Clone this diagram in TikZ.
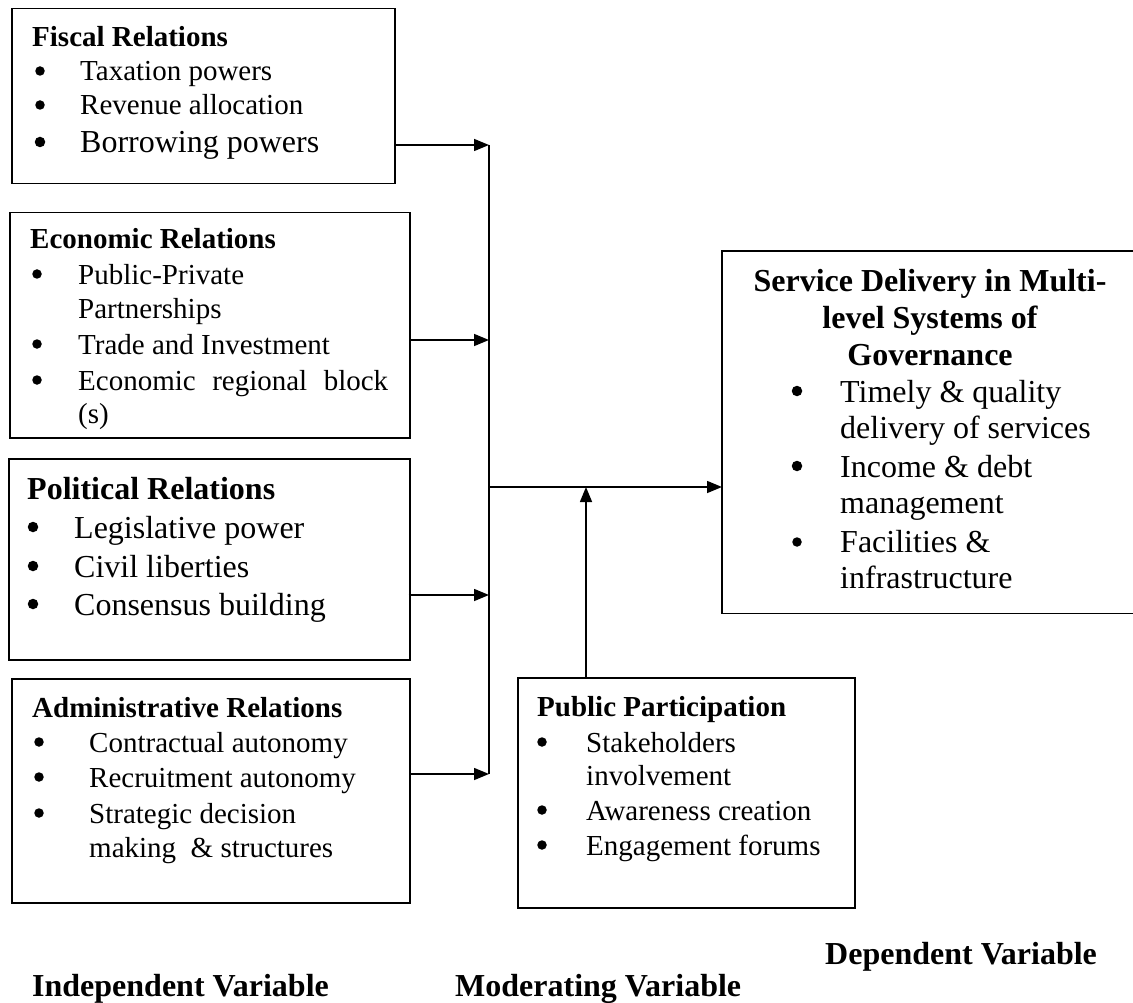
\documentclass[tikz,border=0pt]{standalone}
\usepackage{fontspec}
\setmainfont{Liberation Serif}
\usetikzlibrary{arrows.meta}
\tikzset{
  box/.style={draw, line width=1.5pt, inner sep=0pt, anchor=north west},
  openbox/.style={inner sep=0pt, anchor=north west},
  conn/.style={line width=1.5pt, -{Triangle[length=15pt,width=12pt]}},
  plainline/.style={line width=1.5pt},
  tx/.style={anchor=base west, inner sep=0pt, font=\fontsize{29}{35}\selectfont},
  txl/.style={anchor=base west, inner sep=0pt, font=\fontsize{32}{38}\selectfont},
  hd/.style={anchor=base west, inner sep=0pt, font=\fontsize{29}{35}\selectfont\bfseries},
  hdl/.style={anchor=base west, inner sep=0pt, font=\fontsize{32}{38}\selectfont\bfseries},
  hdc/.style={anchor=base, inner sep=0pt, font=\fontsize{32}{38}\selectfont\bfseries},
  bul/.style={circle, fill, inner sep=0pt, minimum size=9.5pt, yshift=10pt},
  bull/.style={circle, fill, inner sep=0pt, minimum size=10.5pt, yshift=11pt},
}
\begin{document}
\begin{tikzpicture}[x=1pt, y=-1pt]
\useasboundingbox (0,0) rectangle (1133,1003);

% Boxes
\node[box, minimum width=383pt, minimum height=175pt] (fiscal) at (11,8) {};
\node[box, minimum width=400pt, minimum height=225pt] (econ) at (9,212) {};
\node[box, minimum width=401pt, minimum height=201pt] (polit) at (8,458) {};
\node[box, minimum width=398pt, minimum height=224pt] (admin) at (11,678) {};
\node[box, minimum width=337pt, minimum height=230pt] (public) at (517,677) {};
\node[openbox, minimum width=422pt, minimum height=362pt] (service) at (722,251) {};
\draw[plainline] (service.north east) -- (service.north west) -- (service.south west) -- (service.south east);

% Fiscal
\node[hd] (f0) at (32,47) {Fiscal Relations};
\node[bul] (fb1) at (40,81) {};
\node[tx] (f1) at (80,81) {Taxation powers};
\node[bul] (fb2) at (40,115) {};
\node[tx] (f2) at (80,115) {Revenue allocation};
\node[bull] (fb3) at (40,153) {};
\node[txl] (f3) at (80,153) {Borrowing powers};

% Economic
\node[hd] (e0) at (30,249) {Economic Relations};
\node[bul] (eb1) at (37,284) {};
\node[tx] (e1) at (78,284) {Public-Private};
\node[tx] (e2) at (78,318) {Partnerships};
\node[bul] (eb3) at (37,354) {};
\node[tx] (e3) at (78,354) {Trade and Investment};
\node[bul] (eb4) at (37,390) {};
\node[tx] (e4) at (78,390) {\hbox to 310pt{Economic\hfill regional\hfill block}};
\node[tx] (e5) at (78,423) {(s)};

% Political
\node[hdl] (p0) at (27,499) {Political Relations};
\node[bull] (pb1) at (33,538) {};
\node[txl] (p1) at (74,538) {Legislative power};
\node[bull] (pb2) at (33,577) {};
\node[txl] (p2) at (74,577) {Civil liberties};
\node[bull] (pb3) at (33,615) {};
\node[txl] (p3) at (74,615) {Consensus building};

% Administrative
\node[hd] (a0) at (32,717) {Administrative Relations};
\node[bul] (ab1) at (39,752) {};
\node[tx] (a1) at (89,752) {Contractual autonomy};
\node[bul] (ab2) at (39,787) {};
\node[tx] (a2) at (89,787) {Recruitment autonomy};
\node[bul] (ab3) at (39,823) {};
\node[tx] (a3) at (89,823) {Strategic decision};
\node[tx] (a4) at (89,857) {making~ \& structures};

% Public participation
\node[hd] (u0) at (537,716) {Public Participation};
\node[bul] (ub1) at (542,752) {};
\node[tx] (u1) at (586,752) {Stakeholders};
\node[tx] (u2) at (586,785) {involvement};
\node[bul] (ub3) at (542,820) {};
\node[tx] (u3) at (586,820) {Awareness creation};
\node[bul] (ub4) at (542,855) {};
\node[tx] (u4) at (586,855) {Engagement forums};

% Service delivery
\node[hdc] (s0) at (930,291) {Service Delivery in Multi-};
\node[hdc] (s1) at (930,328) {level Systems of};
\node[hdc] (s2) at (930,365) {Governance};
\node[bull] (sb1) at (797,402) {};
\node[txl] (s3) at (840,402) {Timely \& quality};
\node[txl] (s4) at (840,438) {delivery of services};
\node[bull] (sb2) at (797,477) {};
\node[txl] (s5) at (840,477) {Income \& debt};
\node[txl] (s6) at (840,513) {management};
\node[bul] (sb3) at (797,552) {};
\node[txl] (s7) at (840,552) {Facilities \&};
\node[txl] (s8) at (840,588) {infrastructure};

% Bottom labels
\node[hdl] (lind) at (32,996) {Independent Variable};
\node[hdl] (lmod) at (455,996) {Moderating Variable};
\node[hdl] (ldep) at (825,964) {Dependent Variable};

% Connectors
\coordinate (jf) at (489,145);
\coordinate (je) at (489,340);
\coordinate (jp) at (489,595);
\coordinate (ja) at (489,774);
\coordinate (hj) at (489,487);
\coordinate (pj) at (586,487);

\draw[plainline] (jf) -- (ja);
\draw[conn] (fiscal.east |- jf) -- (jf);
\draw[conn] (econ.east |- je) -- (je);
\draw[conn] ([xshift=-2pt]polit.east |- jp) -- (jp);
\draw[conn] (admin.east |- ja) -- (ja);
\draw[conn] (hj) -- (service.west |- hj);
\draw[conn] (public.north -| pj) -- (pj);
\end{tikzpicture}
\end{document}
